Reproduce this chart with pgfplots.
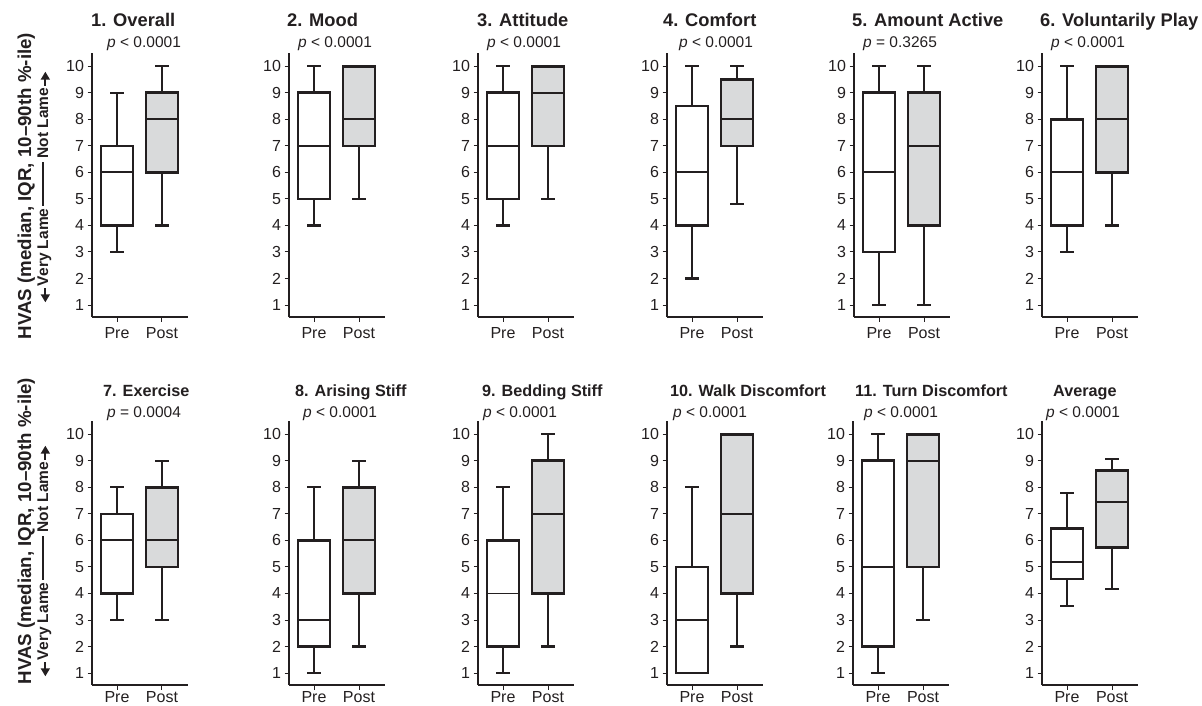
\documentclass[border=0pt]{standalone}
\usepackage{fontspec}
\setmainfont{Liberation Sans}
\usepackage{pgfplots}
\pgfplotsset{compat=1.18}
\usepgfplotslibrary{statistics}
\usetikzlibrary{arrows.meta}
\definecolor{ink}{HTML}{231F20}
\definecolor{postfill}{HTML}{D9DADB}
\pgfplotsset{
  boxplot/every box/.style={draw=ink, line width=2.7pt},
  boxplot/every whisker/.style={draw=ink, line width=2.2pt},
  boxplot/every median/.style={draw=ink, line width=1.9pt},
  panel/.style={
    scale only axis, width=96pt, height=264pt,
    anchor=south west,
    xmin=0.444, xmax=2.578, ymin=0.55, ymax=10.5,
    axis x line*=bottom, axis y line*=left,
    axis line style={ink, line width=1.2pt, -},
    xtick={1,2}, xticklabels={Pre,Post},
    ytick={1,2,3,4,5,6,7,8,9,10},
    tick style={ink, line width=1pt},
    tick align=outside, major tick length=4.5pt,
    tick label style={font=\fontsize{16}{16}\selectfont, text=ink},
    xticklabel style={yshift=-2pt},
    /pgf/number format/assume math mode=true,
    clip=false,
    boxplot/draw direction=y,
    boxplot/box extend=0.71,
    boxplot/whisker extend=0.3,
  },
  lowrow/.style={xticklabel style={yshift=3.5pt}},
  prebox/.style={draw=ink, fill=white, solid, line width=2.7pt},
  postbox/.style={draw=ink, fill=postfill, solid, line width=2.7pt},
}
\newcommand{\ttl}[3]{\node[anchor=base west, inner sep=0pt, text=ink, font=\bfseries\fontsize{18.3}{18.3}\selectfont] at (#1pt,-#2pt) {#3};}
\newcommand{\ttlb}[3]{\node[anchor=base west, inner sep=0pt, text=ink, font=\bfseries\fontsize{16.2}{16.2}\selectfont] at (#1pt,-#2pt) {#3};}
\newcommand{\pv}[3]{\node[anchor=base west, inner sep=0pt, text=ink, font=\fontsize{15.5}{15.5}\selectfont] at (#1pt,-#2pt) {\textit{p} #3};}
% style, position, lw, lq, med, uq, uw
\newcommand{\bp}[7]{\addplot[#1, boxplot prepared={draw position=#2, lower whisker=#3, lower quartile=#4, median=#5, upper quartile=#6, upper whisker=#7}] coordinates {};}

\begin{document}
\begin{tikzpicture}
\useasboundingbox (0,0) rectangle (1202pt,-706pt);
% ---------------- top row ----------------
\begin{axis}[panel, at={(92pt,-317pt)}]
\bp{prebox}{1}{3}{4}{6}{7}{9}
\bp{postbox}{2}{4}{6}{8}{9}{10}
\end{axis}
\begin{axis}[panel, at={(289pt,-317pt)}]
\bp{prebox}{1}{4}{5}{7}{9}{10}
\bp{postbox}{2}{5}{7}{8}{10}{10}
\end{axis}
\begin{axis}[panel, at={(478pt,-317pt)}]
\bp{prebox}{1}{4}{5}{7}{9}{10}
\bp{postbox}{2}{5}{7}{9}{10}{10}
\end{axis}
\begin{axis}[panel, at={(667pt,-317pt)}]
\bp{prebox}{1}{2}{4}{6}{8.5}{10}
\bp{postbox}{2}{4.8}{7}{8}{9.5}{10}
\end{axis}
\begin{axis}[panel, at={(854pt,-317pt)}]
\bp{prebox}{1}{1}{3}{6}{9}{10}
\bp{postbox}{2}{1}{4}{7}{9}{10}
\end{axis}
\begin{axis}[panel, at={(1042pt,-317pt)}]
\bp{prebox}{1}{3}{4}{6}{8}{10}
\bp{postbox}{2}{4}{6}{8}{10}{10}
\end{axis}
% ---------------- bottom row ----------------
\begin{axis}[panel, lowrow, at={(92pt,-685pt)}]
\bp{prebox}{1}{3}{4}{6}{7}{8}
\bp{postbox}{2}{3}{5}{6}{8}{9}
\end{axis}
\begin{axis}[panel, lowrow, at={(289pt,-685pt)}]
\bp{prebox}{1}{1}{2}{3}{6}{8}
\bp{postbox}{2}{2}{4}{6}{8}{9}
\end{axis}
\begin{axis}[panel, lowrow, at={(478pt,-685pt)}]
\bp{prebox}{1}{1}{2}{4}{6}{8}
\bp{postbox}{2}{2}{4}{7}{9}{10}
\end{axis}
\begin{axis}[panel, lowrow, at={(667pt,-685pt)}]
\bp{prebox}{1}{1}{1}{3}{5}{8}
\bp{postbox}{2}{2}{4}{7}{10}{10}
\end{axis}
\begin{axis}[panel, lowrow, at={(853pt,-685pt)}]
\bp{prebox}{1}{1}{2}{5}{9}{10}
\bp{postbox}{2}{3}{5}{9}{10}{10}
\end{axis}
\begin{axis}[panel, lowrow, at={(1042pt,-685pt)}]
\bp{prebox}{1}{3.54}{4.54}{5.19}{6.45}{7.80}
\bp{postbox}{2}{4.18}{5.73}{7.45}{8.63}{9.07}
\end{axis}
% ---------------- titles ----------------
\ttl{91}{27}{1. Overall}
\ttl{287}{27}{2. Mood}
\ttl{477}{27}{3. Attitude}
\ttl{663}{27}{4. Comfort}
\ttl{852}{27}{5. Amount Active}
\ttl{1040}{27}{6. Voluntarily Play}
\pv{107}{48}{< 0.0001}
\pv{298}{48}{< 0.0001}
\pv{487}{48}{< 0.0001}
\pv{679}{48}{< 0.0001}
\pv{863}{48}{= 0.3265}
\pv{1051}{48}{< 0.0001}
\ttlb{103}{396}{7. Exercise}
\ttlb{295}{396}{8. Arising Stiff}
\ttlb{482}{396}{9. Bedding Stiff}
\ttlb{670}{396}{10. Walk Discomfort}
\ttlb{855}{396}{11. Turn Discomfort}
\ttlb{1053}{396}{Average}
\pv{107}{417}{= 0.0004}
\pv{303}{417}{< 0.0001}
\pv{483}{417}{< 0.0001}
\pv{673}{417}{< 0.0001}
\pv{864}{417}{< 0.0001}
\pv{1046}{417}{< 0.0001}
% ---------------- y labels ----------------
\foreach \yc/\yd in {186/187, 531/561}{
  \node[rotate=90, anchor=base, inner sep=0pt, text=ink, font=\bfseries\fontsize{18.7}{18.7}\selectfont] at (31pt,-\yc pt) {HVAS (median, IQR, 10–90th \%-ile)};
  \node[rotate=90, anchor=base, inner sep=0pt, text=ink, font=\bfseries\fontsize{15.5}{15.5}\selectfont] (L2) at (48pt,-\yd pt) {Very Lame\hspace{3pt}\rule[4.2pt]{44pt}{1.4pt}\hspace{3pt}Not Lame};
  \draw[ink, line width=1.8pt, -{Triangle[length=8pt, width=9pt]}] ([yshift=-2pt]L2.mid west) -- ++(0,-14pt);
  \draw[ink, line width=1.8pt, -{Triangle[length=8pt, width=9pt]}] ([yshift=2pt]L2.mid east) -- ++(0,14pt);
}
\end{tikzpicture}
\end{document}
